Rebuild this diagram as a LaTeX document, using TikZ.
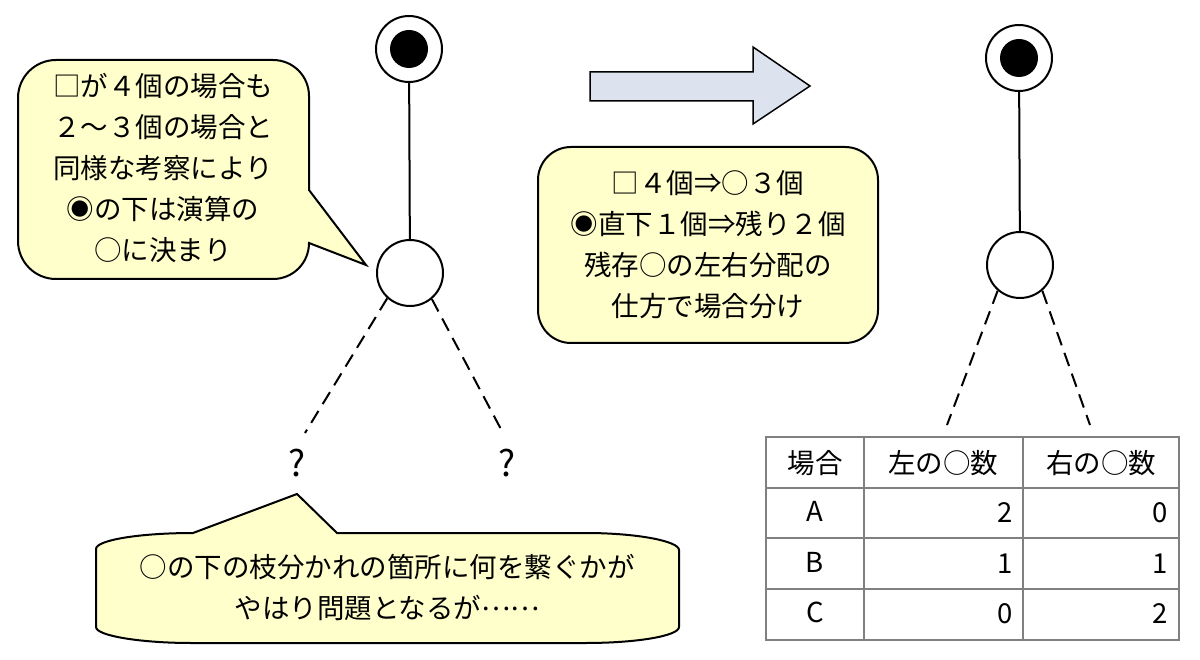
\documentclass[tikz,border=0pt]{standalone}
\usepackage{fontspec}
\setmainfont{Noto Sans CJK JP}
\definecolor{callyellow}{HTML}{FFFFCC}
\definecolor{arrowfill}{HTML}{DCE3EE}
\definecolor{gridgray}{HTML}{808080}
\newcommand\jpfont{\fontsize{27.5}{41}\selectfont}
\begin{document}
\begin{tikzpicture}[x=1pt,y=-1pt,
  every node/.style={inner sep=0pt, font=\jpfont},
  ln/.style={line width=2pt},
  circ/.style={circle, draw, line width=2pt, minimum size=66pt, fill=white},
  dot/.style={circle, fill=black, minimum size=38pt},
  dsh/.style={line width=2pt, dash pattern=on 14pt off 8pt},
  callout/.style={draw, line width=2pt, fill=callyellow},
  grid/.style={draw=gridgray, line width=1.3pt},
  qm/.style={font=\fontsize{36}{36}\selectfont},
]
\fill[white] (0,0) rectangle (1200,660);
\useasboundingbox (0,0) rectangle (1200,660);

% left callout
\draw[callout] (309,190) -- (366,265) -- (309,243)
  .. controls (309,263) and (293,279) .. (273,279)
  -- (56,279) .. controls (35,279) and (18,262) .. (18,241)
  -- (18,98) .. controls (18,77) and (35,60) .. (56,60)
  -- (273,60) .. controls (293,60) and (309,76) .. (309,96)
  -- cycle;
\node[align=center] (lt) at (163,168) {□が４個の場合も\\２～３個の場合と\\同様な考察により\\◉の下は演算の\\○に決まり};

% left tree
\node[circ] (r1) at (409,49) {};
\node[dot] (r1i) at (r1) {};
\node[circ] (c1) at (410,273) {};
\draw[ln] (r1) -- (c1);
\coordinate (e1) at (305,433);
\coordinate (e2) at (503,433);
\draw[dsh] (c1.228) -- (e1);
\draw[dsh] (c1.310) -- (e2);
\node[qm] (q1) at (297,463) {?};
\node[qm] (q2) at (507,463) {?};

% bottom callout
\draw[callout] (193,533) -- (297,494) -- (337,533) -- (586,533)
  .. controls (636,533) and (679,541) .. (679,550)
  -- (679,627) .. controls (679,636) and (636,643) .. (586,643)
  -- (191,643) .. controls (142,643) and (96,636) .. (96,627)
  -- (96,549) .. controls (96,540) and (140,533) .. (193,533) -- cycle;
\node[align=center] (bt) at (387,588) {○の下の枝分かれの箇所に何を繋ぐかが\\やはり問題となるが\raisebox{0.3em}{……}};

% arrow
\draw[line width=1.5pt, fill=arrowfill] (590,72) -- (753,72) -- (753,47) -- (810,86)
  -- (753,124) -- (753,101) -- (590,101) -- cycle;

% middle box
\node[draw, line width=2pt, fill=callyellow, rounded corners=33pt,
  minimum width=340pt, minimum height=196pt, align=center] (mb) at (708,245)
  {□４個⇒○３個\\◉直下１個⇒残り２個\\残存○の左右分配の\\仕方で場合分け};

% right tree
\node[circ] (r2) at (1019,58) {};
\node[dot] (r2i) at (r2) {};
\node[circ] (c2) at (1020,265) {};
\draw[ln] (r2) -- (c2);
\coordinate (e3) at (947,425);
\coordinate (e4) at (1090,425);
\draw[dsh] (c2.229) -- (e3);
\draw[dsh] (c2.311) -- (e4);

% table
\draw[grid] (766,437) rectangle (1179,640);
\draw[grid] (766,488) -- (1179,488);
\draw[grid] (766,538) -- (1179,538);
\draw[grid] (766,589) -- (1179,589);
\draw[grid] (864,437) -- (864,640);
\draw[grid] (1023,437) -- (1023,640);
\node (h0) at (815,463) {場合};
\node (h1) at (943,463) {左の○数};
\node (h2) at (1101,463) {右の○数};
\node (a0) at (815,511) {A};
\node (b0) at (815,562) {B};
\node (cc0) at (815,612) {C};
\node[anchor=east] (a1) at (1013,513) {2};
\node[anchor=east] (a2) at (1168,513) {0};
\node[anchor=east] (b1) at (1013,564) {1};
\node[anchor=east] (b2) at (1168,564) {1};
\node[anchor=east] (cc1) at (1013,614) {0};
\node[anchor=east] (cc2) at (1168,614) {2};
\end{tikzpicture}
\end{document}
